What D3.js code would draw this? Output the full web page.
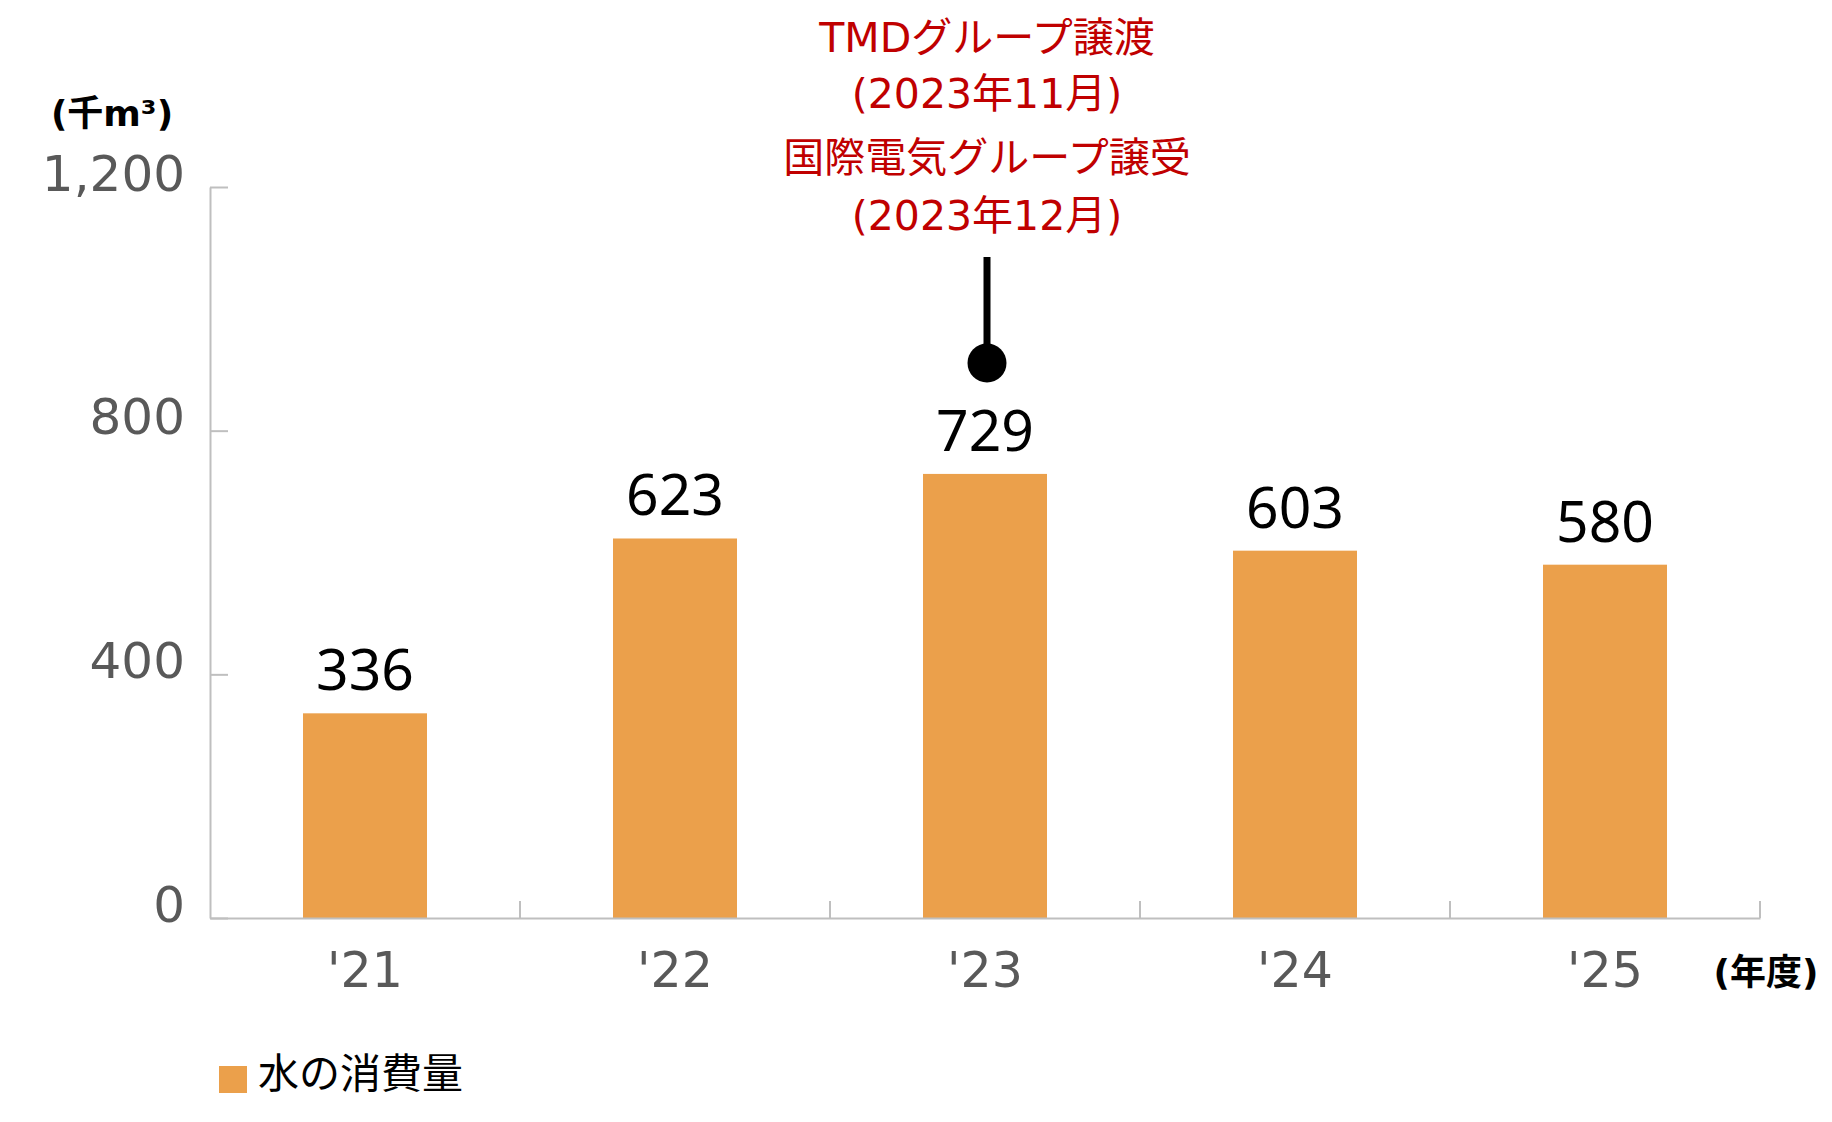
<!DOCTYPE html>
<html><head><meta charset="utf-8">
<script src="https://cdn.jsdelivr.net/npm/d3@7"></script>
<style>html,body{margin:0;padding:0;background:#fff;}svg{display:block;}</style>
</head><body>
<svg id="chart" width="1832" height="1122"></svg>
<script>
const categories = ["'21", "'22", "'23", "'24", "'25"];
const values = [336, 623, 729, 603, 580];
const yTicks = [0, 400, 800, 1200];
const seriesName = "水の消費量";
const unitLabel = "(千m³)";
const xUnitLabel = "(年度)";
const annotationCategory = "'23";
const annotationLines = ["TMDグループ譲渡", "(2023年11月)", "国際電気グループ譲受", "(2023年12月)"];

(function () {
const plotLeft = 210, plotRight = 1760, plotTop = 187, plotBottom = 918;
const barColor = "#EBA04B", axisColor = "#BFBFBF", tickTextColor = "#595959", red = "#C00000";
const cjk = "'Noto Sans CJK JP', 'Noto Sans', sans-serif";
const mixed = "'DejaVu Sans', 'Noto Sans CJK JP', sans-serif";

const svg = d3.select("#chart");
const x = d3.scaleBand().domain(categories).range([plotLeft, plotRight]).paddingInner(0.6).paddingOuter(0.3);
const y = d3.scaleLinear().domain([0, 1200]).range([plotBottom, plotTop]);

// bars
svg.append("g").selectAll("rect").data(values).join("rect")
  .attr("x", (d, i) => x(categories[i]))
  .attr("y", d => y(d))
  .attr("width", x.bandwidth())
  .attr("height", d => y(0) - y(d))
  .attr("fill", barColor);

// y axis
const yAxis = svg.append("g").attr("transform", `translate(${plotLeft},0)`)
  .call(d3.axisLeft(y).tickValues(yTicks).tickFormat(d3.format(",")).tickSizeInner(-18).tickSizeOuter(0).tickPadding(25));
yAxis.select(".domain").attr("stroke", axisColor).attr("stroke-width", 2);
yAxis.selectAll(".tick line").attr("stroke", axisColor).attr("stroke-width", 2);
yAxis.selectAll(".tick text").attr("dy", "3").attr("fill", tickTextColor)
  .style("font-family", "'DejaVu Sans', Verdana, sans-serif").style("font-size", "50px");

// x axis
const xAxis = svg.append("g").attr("transform", `translate(0,${plotBottom})`)
  .call(d3.axisBottom(x).tickSize(0).tickPadding(0));
xAxis.select(".domain").attr("stroke", axisColor).attr("stroke-width", 2);
xAxis.selectAll(".tick text").attr("y", 69).attr("dy", 0).attr("fill", tickTextColor)
  .style("font-family", "'DejaVu Sans', Verdana, sans-serif").style("font-size", "49px");
// category separator ticks
const step = x.step();
svg.append("g").selectAll("line").data(categories).join("line")
  .attr("x1", c => x(c) + x.bandwidth() / 2 + step / 2)
  .attr("x2", c => x(c) + x.bandwidth() / 2 + step / 2)
  .attr("y1", plotBottom).attr("y2", plotBottom - 17)
  .attr("stroke", axisColor).attr("stroke-width", 2);

// value labels
svg.append("g").selectAll("text").data(values).join("text")
  .attr("x", (d, i) => x(categories[i]) + x.bandwidth() / 2)
  .attr("y", d => y(d) - 23)
  .attr("text-anchor", "middle")
  .style("font-family", "'Noto Sans', 'Open Sans', sans-serif").style("font-size", "57px")
  .attr("fill", "#000")
  .text(d => d);

// unit labels
svg.append("text").attr("x", 112).attr("y", 126).attr("text-anchor", "middle")
  .style("font-family", mixed).style("font-size", "36px").style("font-weight", "bold").text(unitLabel);
svg.append("text").attr("x", 1766).attr("y", 985).attr("text-anchor", "middle")
  .style("font-family", mixed).style("font-size", "36px").style("font-weight", "bold").text(xUnitLabel);

// annotation
const ax = x(annotationCategory) + x.bandwidth() / 2 + 2;
const lineYs = [52, 108, 172, 230];
svg.append("g").selectAll("text").data(annotationLines).join("text")
  .attr("x", ax).attr("y", (d, i) => lineYs[i]).attr("text-anchor", "middle")
  .style("font-family", mixed).style("font-size", "41px").attr("fill", red)
  .text(d => d);
svg.append("line").attr("x1", ax).attr("x2", ax).attr("y1", 257).attr("y2", 355)
  .attr("stroke", "#000").attr("stroke-width", 7);
svg.append("circle").attr("cx", ax).attr("cy", 363).attr("r", 19.5).attr("fill", "#000");

// legend
svg.append("rect").attr("x", 219).attr("y", 1066).attr("width", 28).attr("height", 27).attr("fill", barColor);
svg.append("text").attr("x", 258).attr("y", 1088)
  .style("font-family", cjk).style("font-size", "41px").attr("fill", "#000").text(seriesName);
})();
</script>
</body></html>
